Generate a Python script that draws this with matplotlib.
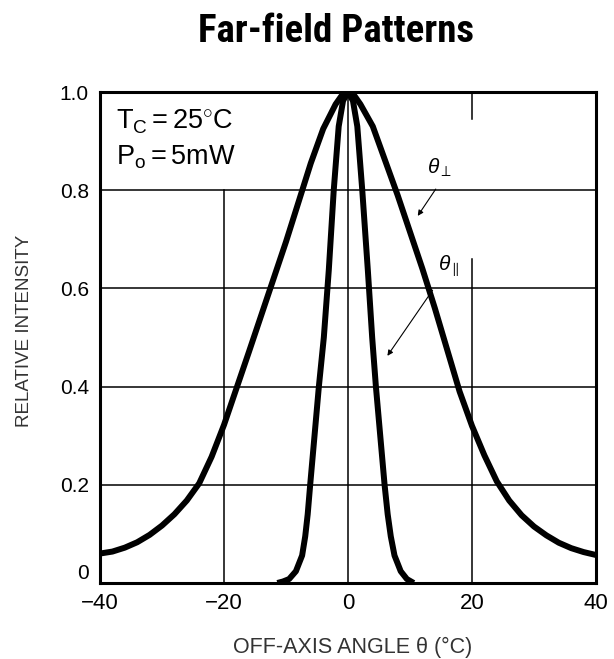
import matplotlib.pyplot as plt

# Far-field pattern data
perp_angle = [-40, -38, -36, -34, -32, -30, -28, -26, -24, -22, -20, -18, -16, -14, -12, -10, -8, -6, -4, -2, -1, 0,
              1, 2, 4, 6, 8, 10, 12, 14, 16, 18, 20, 22, 24, 26, 28, 30, 32, 34, 36, 38, 40]
perp_intensity = [0.060, 0.064, 0.072, 0.083, 0.098, 0.117, 0.140, 0.168, 0.203, 0.257, 0.322, 0.396, 0.470,
                  0.545, 0.620, 0.695, 0.775, 0.855, 0.925, 0.975, 0.993, 1.0,
                  0.993, 0.975, 0.930, 0.860, 0.790, 0.715, 0.640, 0.560, 0.475, 0.390, 0.320, 0.260, 0.207,
                  0.168, 0.138, 0.115, 0.097, 0.082, 0.071, 0.063, 0.057]

par_angle = [-11.4, -10.5, -9.5, -8.4, -7.4, -6.9, -6.5, -6.1, -5.4, -4.7, -3.9, -3.1, -2.3, -1.5, -0.8, 0,
             0.8, 1.5, 2.3, 3.2, 3.9, 4.5, 5.2, 5.9, 6.4, 6.9, 7.5, 8.5, 9.5, 10.6]
par_intensity = [0.0, 0.003, 0.008, 0.024, 0.056, 0.095, 0.140, 0.200, 0.300, 0.400, 0.500, 0.637, 0.800, 0.930,
                 0.982, 1.0,
                 0.982, 0.930, 0.800, 0.637, 0.500, 0.400, 0.300, 0.200, 0.140, 0.095, 0.056, 0.024, 0.008, 0.0]

x_ticks = [-40, -20, 0, 20, 40]
x_tick_labels = ["\u221240", "\u221220", "0", "20", "40"]
y_ticks = [0, 0.2, 0.4, 0.6, 0.8, 1.0]
y_tick_labels = ["0", "0.2", "0.4", "0.6", "0.8", "1.0"]

plt.rcParams['font.family'] = ['Liberation Sans', 'DejaVu Sans']
plt.rcParams['mathtext.fontset'] = 'custom'
plt.rcParams['mathtext.rm'] = 'Liberation Sans'
plt.rcParams['mathtext.it'] = 'Liberation Sans:italic'

fig = plt.figure(figsize=(6.14, 6.59), dpi=100)
ax = fig.add_axes([100 / 614, 76 / 659, 496 / 614, 491 / 659])

# grid (drawn by hand, the original has gaps behind the labels)
for y in [0.2, 0.4, 0.6, 0.8]:
    ax.axhline(y, color='black', lw=1.1, zorder=1)
ax.axvline(-20, ymin=0, ymax=0.8, color='black', lw=1.1, zorder=1)
ax.axvline(0, color='black', lw=1.1, zorder=1)
ax.axvline(20, ymin=0, ymax=0.66, color='black', lw=1.1, zorder=1)
ax.axvline(20, ymin=0.945, ymax=1.0, color='black', lw=1.1, zorder=1)

ax.plot(perp_angle, perp_intensity, color='black', lw=4.3, solid_capstyle='butt', zorder=3)
ax.plot(par_angle, par_intensity, color='black', lw=4.3, solid_capstyle='butt', zorder=3)

ax.set_xlim(-40, 40)
ax.set_ylim(0, 1.0)
ax.set_xticks(x_ticks)
ax.set_xticklabels(x_tick_labels)
ax.set_yticks(y_ticks)
ax.set_yticklabels(y_tick_labels)
ax.tick_params(axis='x', length=0, labelsize=16, pad=7)
ax.tick_params(axis='y', length=0, labelsize=15, pad=8)
ax.get_yticklabels()[0].set_va('bottom')
for spine in ax.spines.values():
    spine.set_linewidth(2.2)

# conditions
ax.text(-37.4, 0.939, r'$\mathrm{T_C = 25^{\circ}C}$', fontsize=19.5, va='center', ha='left')
ax.text(-37.4, 0.867, r'$\mathrm{P_o = 5mW}$', fontsize=19.5, va='center', ha='left')

# curve labels
ax.text(14.8, 0.845, r'$\theta_{\perp}$', fontsize=15, va='center', ha='center')
ax.annotate('', xy=(11.0, 0.743), xytext=(14.4, 0.807),
            arrowprops=dict(arrowstyle='-|>', lw=0.8, color='black', mutation_scale=8))
ax.text(16.3, 0.646, r'$\theta_{\parallel}$', fontsize=15, va='center', ha='center')
ax.annotate('', xy=(6.1, 0.458), xytext=(13.9, 0.601),
            arrowprops=dict(arrowstyle='-|>', lw=0.8, color='black', mutation_scale=8))

fig.text(336 / 614, 1 - 42 / 659, 'Far-field Patterns', ha='center', va='baseline', fontsize=28,
         weight='bold', family=['Roboto Condensed', 'Fira Sans Condensed', 'DejaVu Sans'])
fig.text(353 / 614, 1 - 647 / 659, 'OFF-AXIS ANGLE \u03b8 (\u00b0C)', ha='center', va='center',
         fontsize=15.5, color='#333333')
fig.text(25 / 614, 1 - 331 / 659, 'RELATIVE INTENSITY', ha='center', va='center', rotation=90,
         fontsize=13.5, color='#333333')

plt.savefig('out.png', dpi=100)
